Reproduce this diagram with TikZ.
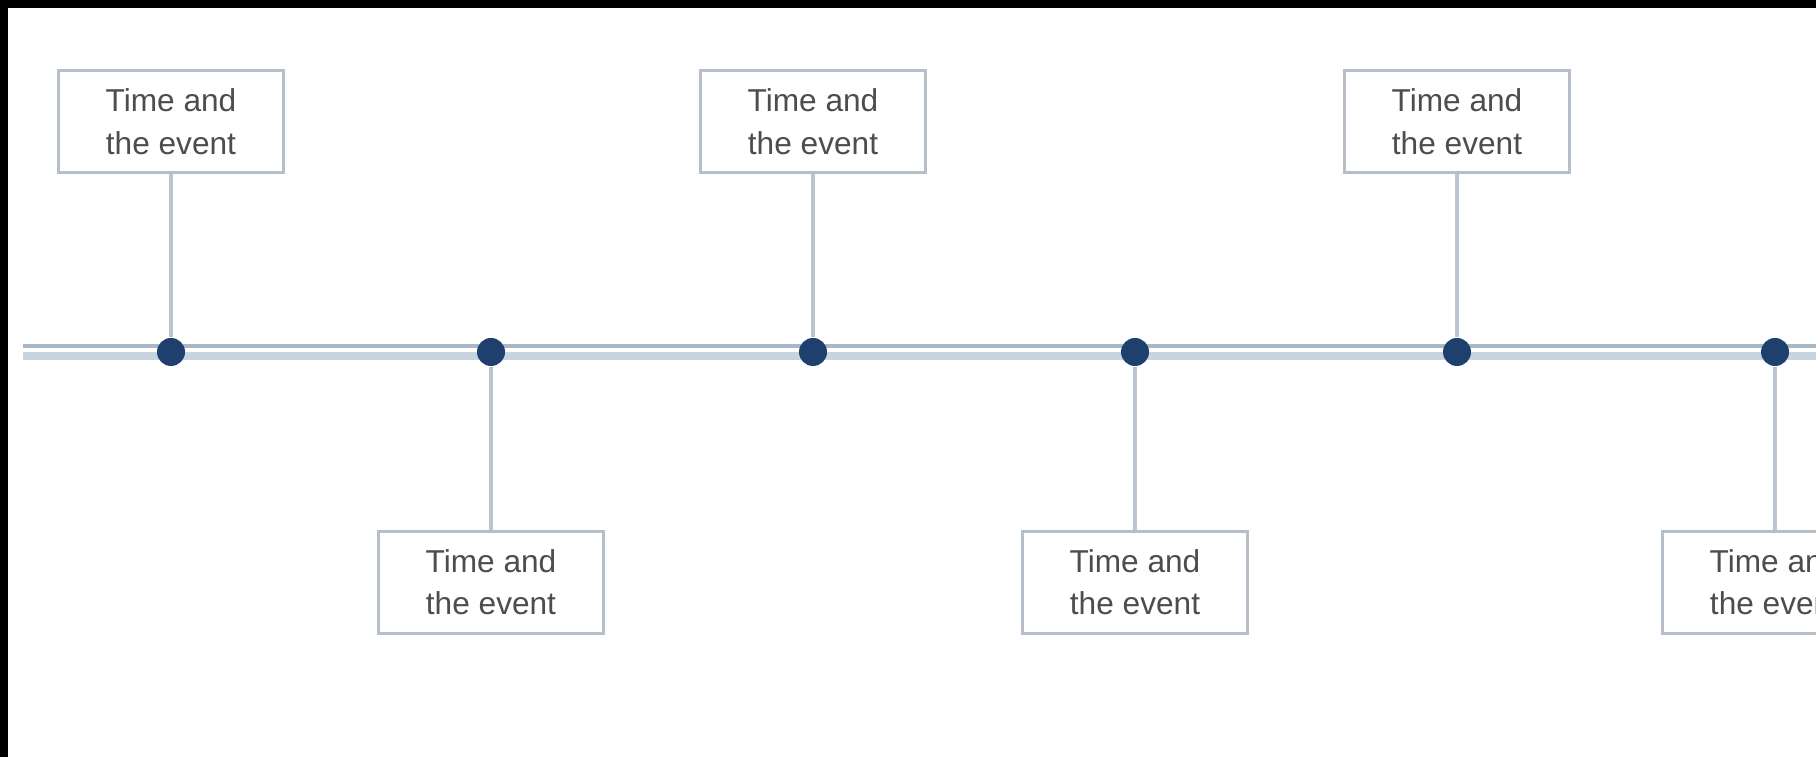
\documentclass[tikz,border=0pt]{standalone}
\usepackage{xcolor}
\usepackage{fontspec}
\setmainfont{Liberation Sans}
\usepackage{tikz}
\usetikzlibrary{positioning}
\definecolor{navy}{HTML}{1F3F6E}
\definecolor{rail}{HTML}{A9B8C6}
\definecolor{railsoft}{HTML}{C8D5E1}
\definecolor{stemgrey}{HTML}{BCC5CF}
\definecolor{frame}{HTML}{B5BEC9}
\definecolor{ink}{HTML}{4D4D4D}

\begin{document}
\begin{tikzpicture}[
    node distance=1.63cm,
    event/.style={draw=frame, line width=0.85pt, fill=white, text=ink,
                  minimum width=2.25cm, minimum height=1.02cm, align=center,
                  inner sep=0pt, font=\fontsize{9}{12.2}\selectfont},
    dot/.style={circle, fill=navy, inner sep=0pt, minimum size=0.28cm},
    stem/.style={draw=stemgrey, line width=1.1pt},
    railtop/.style={draw=rail, line width=1.1pt},
    railbottom/.style={draw=railsoft, line width=2.3pt}
  ]

  \useasboundingbox (0,0) rectangle (18.16,7.57);
  \clip (0,0) rectangle (18.16,7.57);
  \fill[white] (0,0) rectangle (18.16,7.57);
  \fill[black] (0,7.49) rectangle (18.16,7.57);
  \fill[black] (0,0) rectangle (0.08,7.57);

  %%%%%%%%%%%%% Timeline rail %%%%%%%%%%%%%
  \coordinate (railA) at (0.23,4.11);
  \coordinate (railB) at (18.4,4.11);
  \coordinate (railC) at (0.23,4.01);
  \coordinate (railD) at (18.4,4.01);
  \draw[railtop] (railA) -- (railB);
  \draw[railbottom] (railC) -- (railD);

  %%%%%%%%%%%%% Points on the timeline %%%%%%%%%%%%%
  \node[dot] (dot1) at (1.71,4.05) {};
  \node[dot] (dot2) at (4.91,4.05) {};
  \node[dot] (dot3) at (8.13,4.05) {};
  \node[dot] (dot4) at (11.35,4.05) {};
  \node[dot] (dot5) at (14.57,4.05) {};
  \node[dot] (dot6) at (17.75,4.05) {};

  %%%%%%%%%%%%% Events above %%%%%%%%%%%%%
  \node[event, above=of dot1] (ev1) {Time and\\the event};
  \node[event, above=of dot3] (ev3) {Time and\\the event};
  \node[event, above=of dot5] (ev5) {Time and\\the event};

  %%%%%%%%%%%%% Events below %%%%%%%%%%%%%
  \node[event, below=of dot2] (ev2) {Time and\\the event};
  \node[event, below=of dot4] (ev4) {Time and\\the event};
  \node[event, below=of dot6] (ev6) {Time and\\the event};

  %%%%%%%%%%%%% Stems %%%%%%%%%%%%%
  \draw[stem] (ev1) -- (dot1);
  \draw[stem] (dot2) -- (ev2);
  \draw[stem] (ev3) -- (dot3);
  \draw[stem] (dot4) -- (ev4);
  \draw[stem] (ev5) -- (dot5);
  \draw[stem] (dot6) -- (ev6);

\end{tikzpicture}
\end{document}
